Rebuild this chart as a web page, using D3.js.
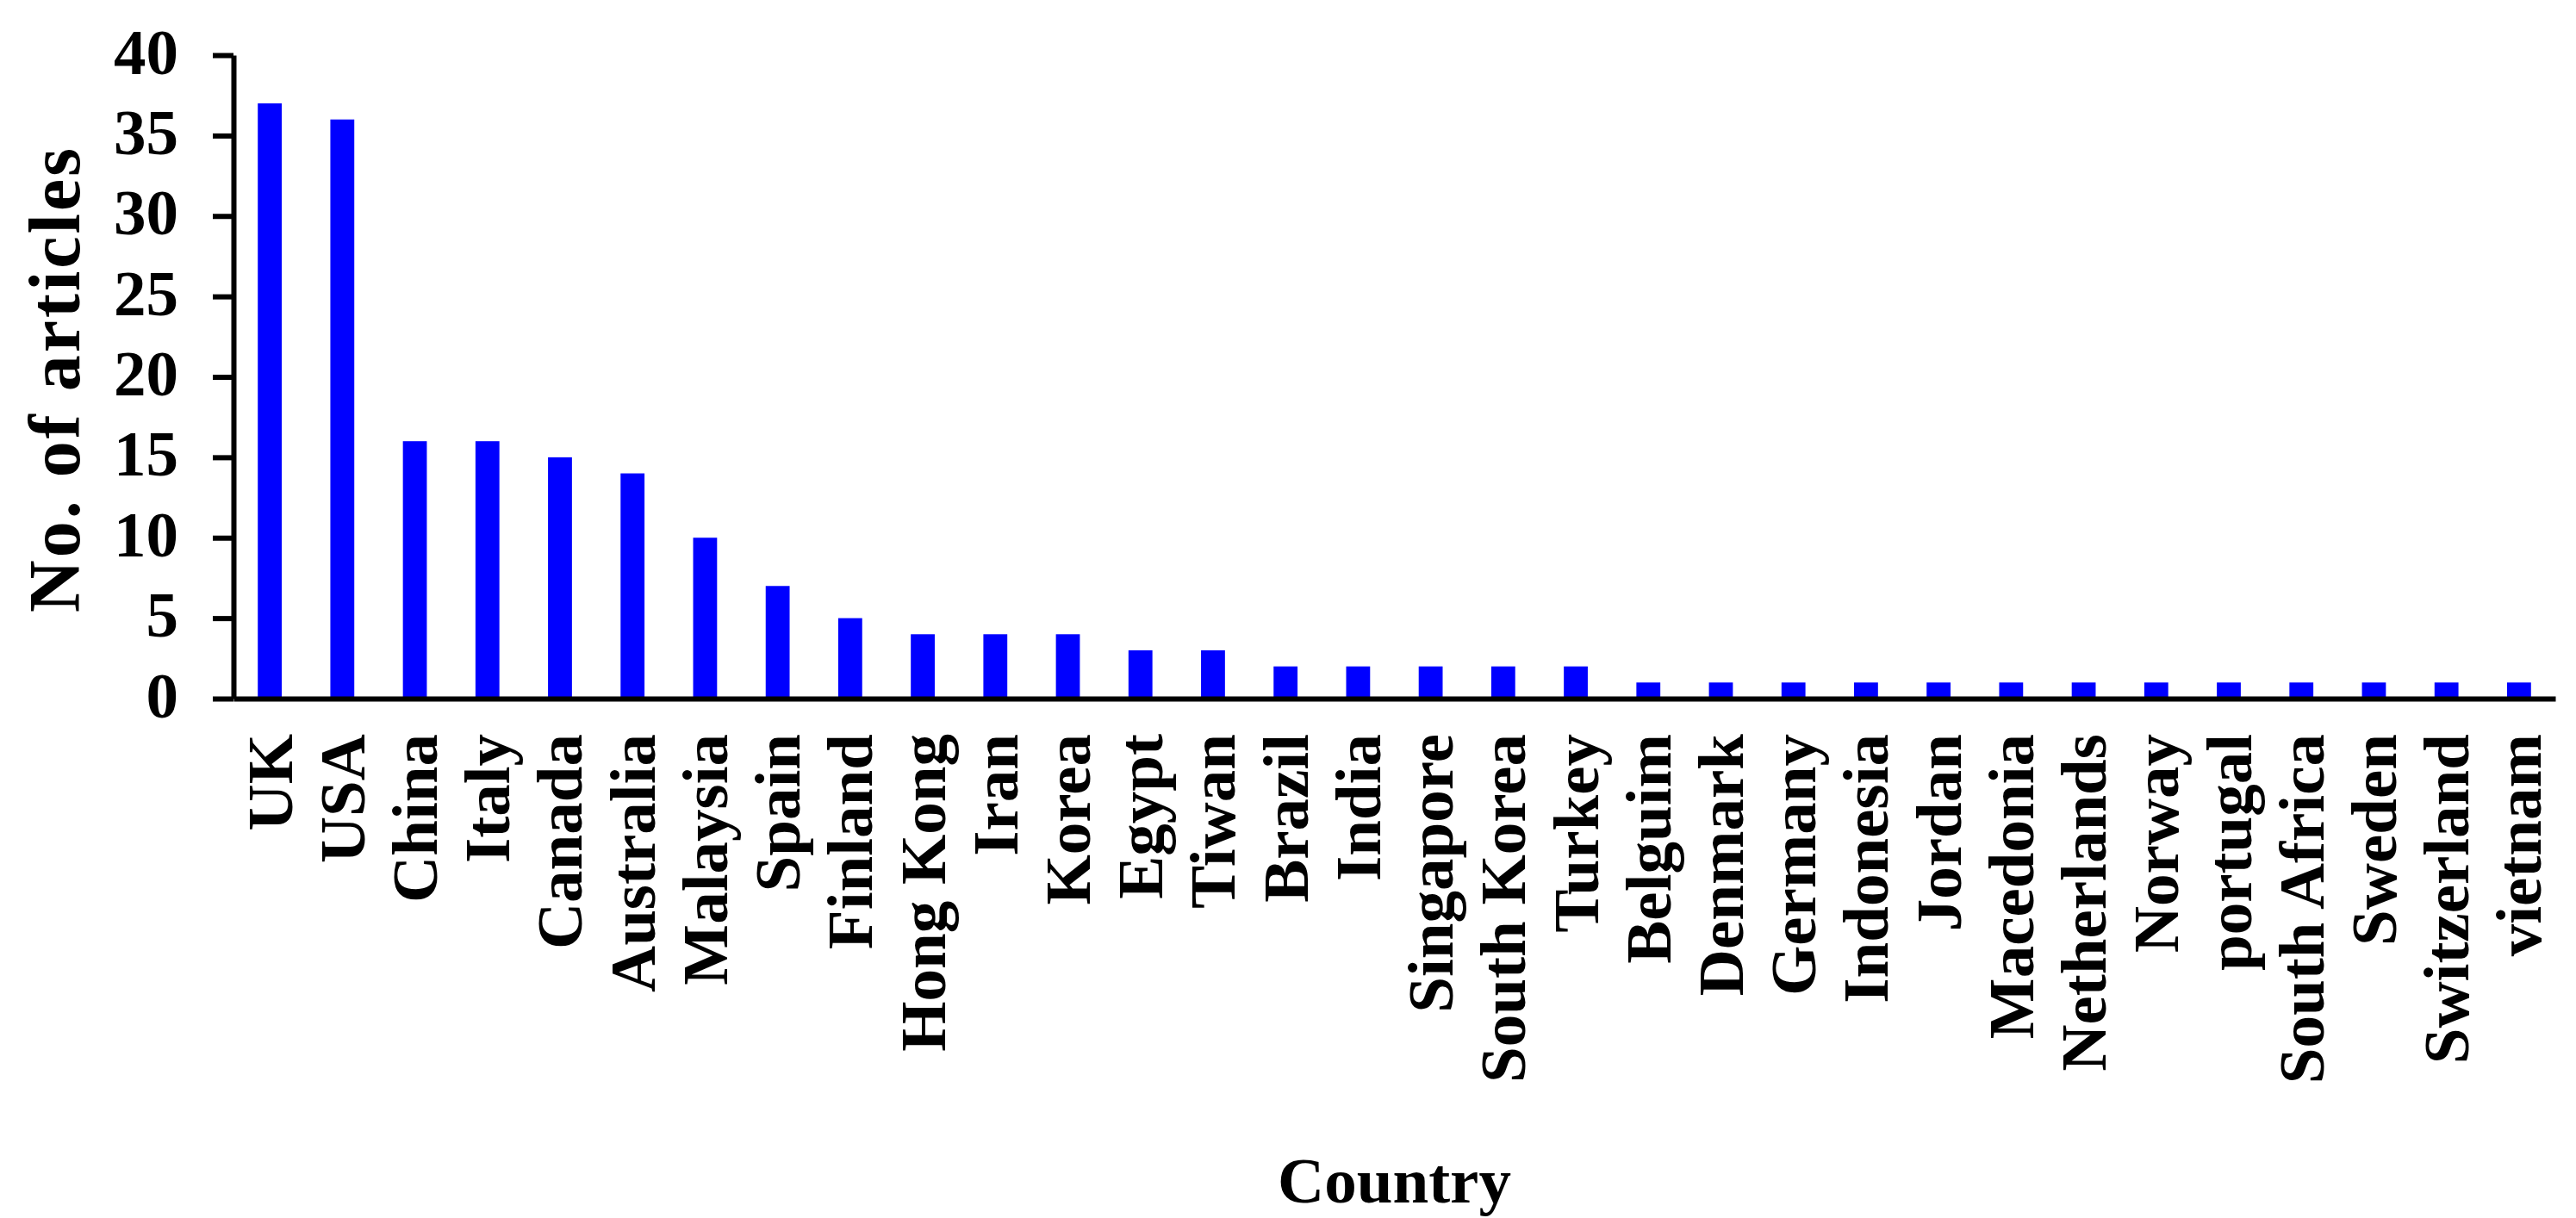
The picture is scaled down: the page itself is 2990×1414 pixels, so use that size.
<!DOCTYPE html>
<html>
<head>
<meta charset="utf-8">
<script src="https://cdnjs.cloudflare.com/ajax/libs/d3/7.8.5/d3.min.js"></script>
<style>
  html, body { margin: 0; padding: 0; background: #fff; }
  svg { display: block; }
  text { font-family: "Liberation Serif", "Times New Roman", serif; font-weight: bold; fill: #000; }
</style>
</head>
<body>
<div id="chart"></div>
<script>
'use strict';

// data
var countries = ['UK', 'USA', 'China', 'Italy', 'Canada', 'Australia', 'Malaysia', 'Spain', 'Finland',
    'Hong Kong', 'Iran', 'Korea', 'Egypt', 'Tiwan', 'Brazil', 'India', 'Singapore', 'South Korea', 'Turkey',
    'Belguim', 'Denmark', 'Germany', 'Indonesia', 'Jordan', 'Macedonia', 'Netherlands', 'Norway',
    'portugal', 'South Africa', 'Sweden', 'Switzerland', 'vietnam'];
var articles = [37, 36, 16, 16, 15, 14, 10, 7, 5, 4, 4, 4, 3, 3, 2, 2, 2, 2, 2,
    1, 1, 1, 1, 1, 1, 1, 1, 1, 1, 1, 1, 1];
var yTicks = [0, 5, 10, 15, 20, 25, 30, 35, 40];
var xTitle = 'Country',
    yTitle = 'No. of articles';

var width = 2990,
    height = 1414,
    margin = { top: 64, right: 24, bottom: 603, left: 271 },
    fontSize = 75,
    axisStroke = 6,
    barColor = '#0000ff';

var svg = d3.select('#chart').append('svg')
    .attr('width', width)
    .attr('height', height)
    .attr('viewBox', '0 0 ' + width + ' ' + height);

svg.append('rect').attr('width', width).attr('height', height).attr('fill', '#fff');

var data = countries.map(function (c, i) {
    return { name: c, value: articles[i] };
});

var x = d3.scaleBand()
    .domain(countries)
    .range([margin.left, width - margin.right])
    .paddingInner(0.67)
    .paddingOuter(0.335);

var y = d3.scaleLinear()
    .domain([0, 40])
    .range([height - margin.bottom, margin.top]);

// bars
svg.append('g').selectAll('rect')
    .data(data)
    .enter().append('rect')
    .attr('x', function (d) { return x(d.name); })
    .attr('y', function (d) { return y(d.value); })
    .attr('width', x.bandwidth())
    .attr('height', function (d) { return y(0) - y(d.value); })
    .attr('fill', barColor);

// y axis
var yAxis = svg.append('g')
    .attr('transform', 'translate(' + margin.left + ',0)')
    .call(d3.axisLeft(y).tickValues(yTicks).tickSizeInner(24).tickSizeOuter(0).tickPadding(40));
yAxis.selectAll('path, line').attr('stroke', '#000').attr('stroke-width', axisStroke);
yAxis.selectAll('text')
    .style('font-size', fontSize + 'px')
    .attr('dy', '0.28em');

// x axis
var xAxis = svg.append('g')
    .attr('transform', 'translate(0,' + y(0) + ')')
    .call(d3.axisBottom(x).tickSize(0).tickSizeOuter(0).tickFormat(''));
xAxis.select('.domain').attr('stroke', '#000').attr('stroke-width', axisStroke);
xAxis.selectAll('.tick').remove();

// category labels, rotated
svg.append('g').selectAll('text')
    .data(countries)
    .enter().append('text')
    .attr('transform', function (d) {
        return 'translate(' + (x(d) + x.bandwidth() / 2) + ',' + (y(0) + 41) + ') rotate(-90)';
    })
    .attr('text-anchor', 'end')
    .attr('dy', '0.34em')
    .style('font-size', fontSize + 'px')
    .text(function (d) { return d; });

// axis titles
svg.append('text')
    .attr('x', (margin.left + width - margin.right) / 2)
    .attr('y', 1396)
    .attr('text-anchor', 'middle')
    .style('font-size', fontSize + 'px')
    .text(xTitle);

svg.append('text')
    .attr('transform', 'translate(92,' + 440 + ') rotate(-90)')
    .attr('text-anchor', 'middle')
    .style('font-size', '84px')
    .style('letter-spacing', '3px')
    .text(yTitle);
</script>
</body>
</html>
